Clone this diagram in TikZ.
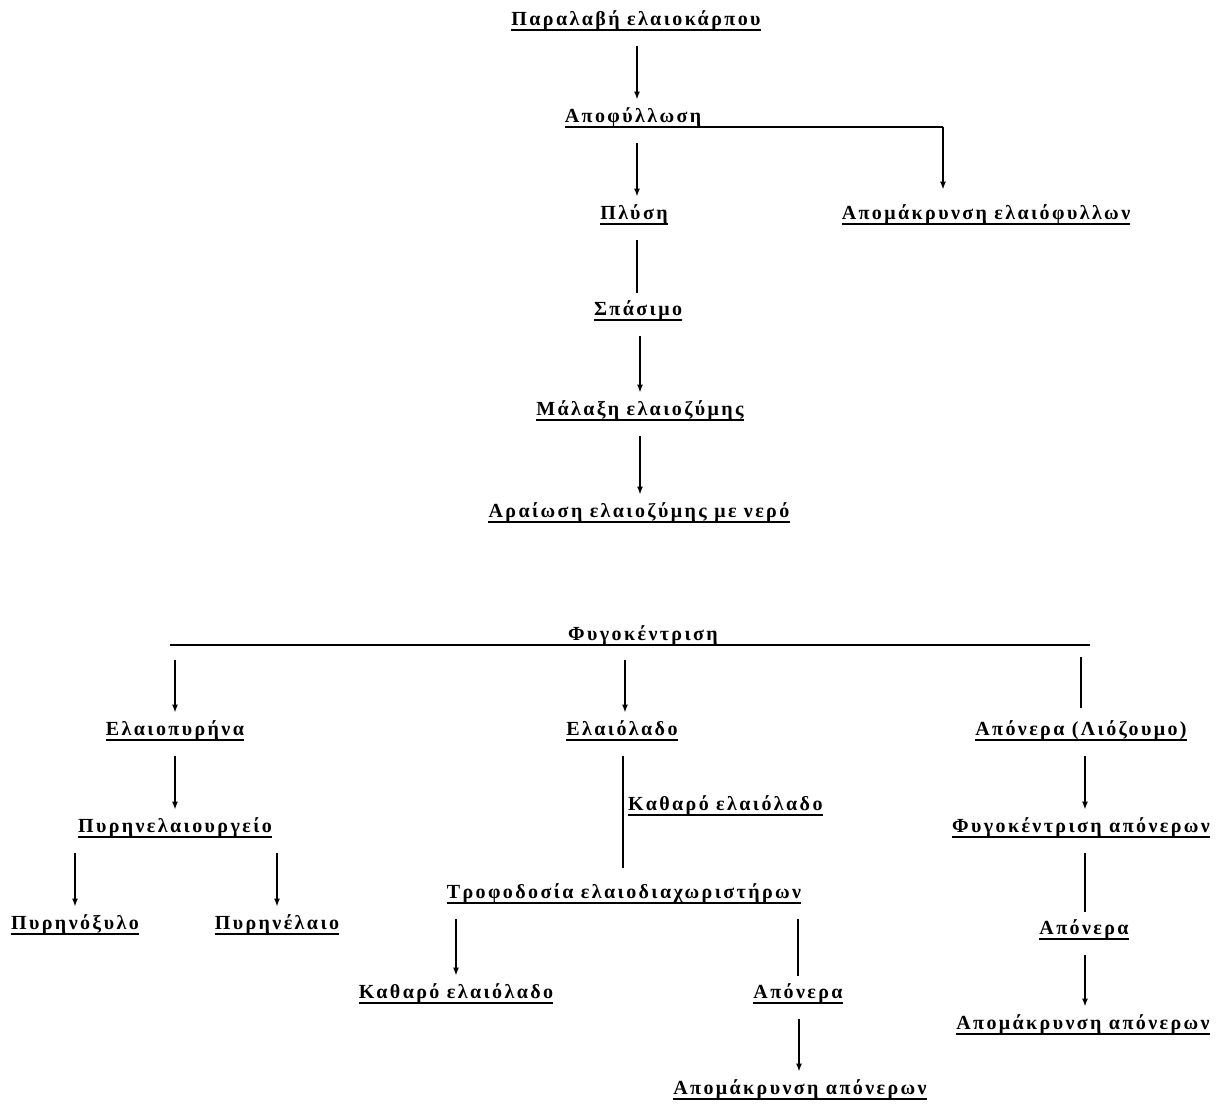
\documentclass[tikz,border=0pt]{standalone}
\usepackage{fontspec}
\setmainfont{Liberation Serif}[LetterSpace=12]
\usetikzlibrary{arrows.meta}
\tikzset{
  txt/.style={font=\fontsize{20}{23}\selectfont\bfseries, inner sep=0pt, text height=14pt, text depth=4pt, anchor=south},
  lbl/.style={txt, append after command={(\tikzlastnode.south west) edge[draw, line width=1.4pt] (\tikzlastnode.south east)}},
  conn/.style={line width=1.7pt, shorten <=16pt, shorten >=9pt},
  arr/.style={conn, -{Latex[length=8pt,width=6pt]}},
  rule/.style={line width=1.7pt}
}
\begin{document}
\begin{tikzpicture}[x=1pt,y=-1pt]
\useasboundingbox (0,0) rectangle (1218,1104);
% nodes
\node[lbl] (paralavi) at (636,30) {Παραλαβή ελαιοκάρπου};
\node[lbl] (apo) at (633,127) {Αποφύλλωση};
\node[lbl] (plysi) at (634,224) {Πλύση};
\node[lbl] (aponf) at (986,224) {Απομάκρυνση ελαιόφυλλων};
\node[lbl] (spasimo) at (638,320) {Σπάσιμο};
\node[lbl] (malaxi) at (640,420) {Μάλαξη ελαιοζύμης};
\node[lbl] (araiosi) at (639,522) {Αραίωση ελαιοζύμης με νερό};
\node[txt] (fyg) at (643,645) {Φυγοκέντριση};
\node[lbl] (elaiopyrina) at (175,740) {Ελαιοπυρήνα};
\node[lbl] (elaiolado) at (622,740) {Ελαιόλαδο};
\node[lbl] (aponera1) at (1081,740) {Απόνερα (Λιόζουμο)};
\node[lbl] (pyrinel) at (175,837) {Πυρηνελαιουργείο};
\node[lbl] (pyrinoxylo) at (75,934) {Πυρηνόξυλο};
\node[lbl] (pyrinelaio) at (277,934) {Πυρηνέλαιο};
\node[lbl, anchor=south west] (katharo1) at (628,815) {Καθαρό ελαιόλαδο};
\node[lbl] (trofo) at (624,903) {Τροφοδοσία ελαιοδιαχωριστήρων};
\node[lbl] (katharo2) at (456,1003) {Καθαρό ελαιόλαδο};
\node[lbl] (aponera2) at (798,1003) {Απόνερα};
\node[lbl] (apomak2) at (800,1099) {Απομάκρυνση απόνερων};
\node[lbl] (fygaponer) at (1081,837) {Φυγοκέντριση απόνερων};
\node[lbl] (aponera3) at (1084,939) {Απόνερα};
\node[lbl] (apomak3) at (1083,1034) {Απομάκρυνση απόνερων};
% coordinates
\coordinate (c1) at (943,127);
\coordinate (fygL) at (170,645);
\coordinate (fygR) at (1090,645);
\coordinate (d1) at (175,645);
\coordinate (d2) at (625,645);
\coordinate (d3) at (1081,645);
\coordinate (v1) at (637,0);
\coordinate (v2) at (640,0);
\coordinate (v3) at (1085,0);
\coordinate (v4) at (623,0);
\coordinate (v5) at (799,0);
% connectors
\draw[arr] (v1 |- paralavi.south) -- (v1 |- apo.north);
\draw[arr] (v1 |- apo.south) -- (v1 |- plysi.north);
\draw[rule] (apo.south east) -- (c1);
\draw[arr, shorten <=0pt, shorten >=16pt] (c1) -- (c1 |- aponf.north);
\draw[conn] (v1 |- plysi.south) -- (v1 |- spasimo.north);
\draw[arr] (v2 |- spasimo.south) -- (v2 |- malaxi.north);
\draw[arr] (v2 |- malaxi.south) -- (v2 |- araiosi.north);
\draw[rule] (fygL) -- (fygR);
\draw[arr, shorten <=15pt] (d1) -- (d1 |- elaiopyrina.north);
\draw[arr, shorten <=15pt] (d2) -- (d2 |- elaiolado.north);
\draw[conn, shorten <=12pt, shorten >=14pt] (d3) -- (d3 |- aponera1.north);
\draw[arr] (elaiopyrina.south) -- (pyrinel.north);
\draw[arr] (pyrinoxylo.north |- pyrinel.south) -- (pyrinoxylo.north);
\draw[arr] (pyrinelaio.north |- pyrinel.south) -- (pyrinelaio.north);
\draw[conn, shorten >=17pt] (v4 |- elaiolado.south) -- (v4 |- trofo.north);
\draw[arr] (katharo2.north |- trofo.south) -- (katharo2.north);
\draw[conn] (aponera2.north |- trofo.south) -- (aponera2.north);
\draw[arr] (v5 |- aponera2.south) -- (v5 |- apomak2.north);
\draw[arr] (v3 |- aponera1.south) -- (v3 |- fygaponer.north);
\draw[conn] (v3 |- fygaponer.south) -- (v3 |- aponera3.north);
\draw[arr] (v3 |- aponera3.south) -- (v3 |- apomak3.north);
\end{tikzpicture}
\end{document}
